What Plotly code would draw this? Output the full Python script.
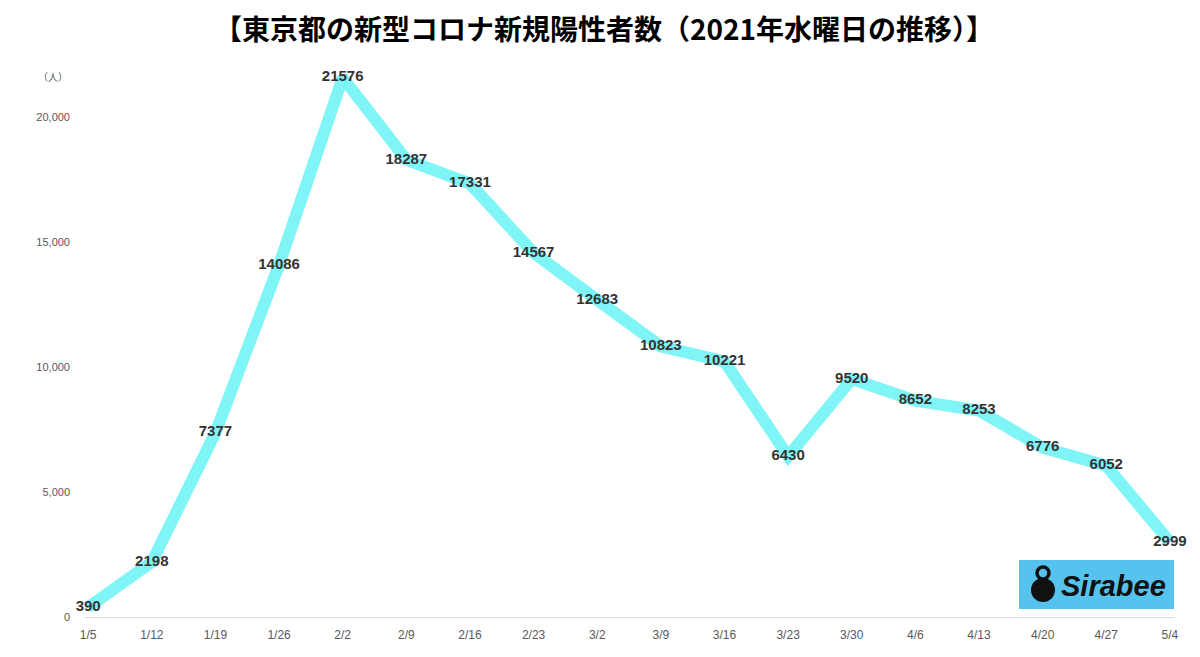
import plotly.graph_objects as go

dates = ["1/5", "1/12", "1/19", "1/26", "2/2", "2/9", "2/16", "2/23", "3/2", "3/9",
         "3/16", "3/23", "3/30", "4/6", "4/13", "4/20", "4/27", "5/4"]
cases = [390, 2198, 7377, 14086, 21576, 18287, 17331, 14567, 12683, 10823,
         10221, 6430, 9520, 8652, 8253, 6776, 6052, 2999]
y_ticks = [0, 5000, 10000, 15000, 20000]
y_tick_text = ["0", "5,000", "10,000", "15,000", "20,000"]

title_text = "【東京都の新型コロナ新規陽性者数（2021年水曜日の推移）】"

sans = "Liberation Sans, Arial, sans-serif"

# page has an 8px body margin, so figure coords = page coords - 8
W, H = 1192, 649
L, R, T, B = 77, 25, 59, 40
PW = W - L - R
PH = H - T - B


def px(xp):
    return (xp - 8 - L) / PW


def py(yp):
    return (H - B - (yp - 8)) / PH


fig = go.Figure()
fig.add_trace(go.Scatter(
    x=list(range(len(dates))), y=cases,
    mode="lines+text",
    line=dict(color="#80F5F7", width=12),
    text=[str(v) for v in cases],
    textposition="middle center",
    textfont=dict(family=sans, size=15, color="#333333", weight="bold"),
    cliponaxis=False,
    hoverinfo="skip",
    showlegend=False,
))

fig.update_layout(
    width=W, height=H,
    margin=dict(l=L, r=R, t=T, b=B, autoexpand=False),
    paper_bgcolor="white", plot_bgcolor="white",
    title=dict(text="<b>" + title_text + "</b>", x=0.5, xanchor="center",
               y=(H - 22) / H, yanchor="middle",
               font=dict(family="Noto Sans CJK JP", size=28, color="#000000")),
    xaxis=dict(
        range=[-0.05, 17.08],
        tickmode="array", tickvals=list(range(len(dates))), ticktext=dates,
        showgrid=False, zeroline=False,
        showline=True, linecolor="#D9D9D9", linewidth=1,
        ticks="", tickfont=dict(family=sans, size=12, color="#595959"),
        ticklabelstandoff=7,
    ),
    yaxis=dict(
        range=[0, 22000],
        tickmode="array", tickvals=y_ticks, ticktext=y_tick_text,
        showgrid=False, zeroline=False, showline=False, ticks="",
        tickfont=dict(family=sans, size=11, color="#595959"),
        ticklabelstandoff=14,
    ),
)

fig.add_annotation(text="（人）", xref="paper", yref="paper", x=px(70), y=py(76),
                   xanchor="right", yanchor="middle", showarrow=False,
                   font=dict(family="Noto Sans CJK JP", size=10, color="#595959"))

# Sirabee logo box
fig.add_shape(type="rect", xref="paper", yref="paper", x0=px(1019), x1=px(1174),
              y0=py(609), y1=py(560),
              fillcolor="#56C2EE", line=dict(width=0), layer="above")
# simple icon approximation
fig.add_shape(type="circle", xref="paper", yref="paper",
              x0=px(1031), x1=px(1055), y0=py(602), y1=py(578),
              fillcolor="#111111", line=dict(width=0), layer="above")
fig.add_shape(type="circle", xref="paper", yref="paper",
              x0=px(1037), x1=px(1049), y0=py(579), y1=py(567),
              fillcolor="rgba(0,0,0,0)", line=dict(width=3.5, color="#111111"), layer="above")
fig.add_annotation(text="<b><i>Sirabee</i></b>", xref="paper", yref="paper",
                   x=px(1113), y=py(586),
                   xanchor="center", yanchor="middle", showarrow=False,
                   font=dict(family=sans, size=29, color="#111111"))

fig.write_html("out.html")
